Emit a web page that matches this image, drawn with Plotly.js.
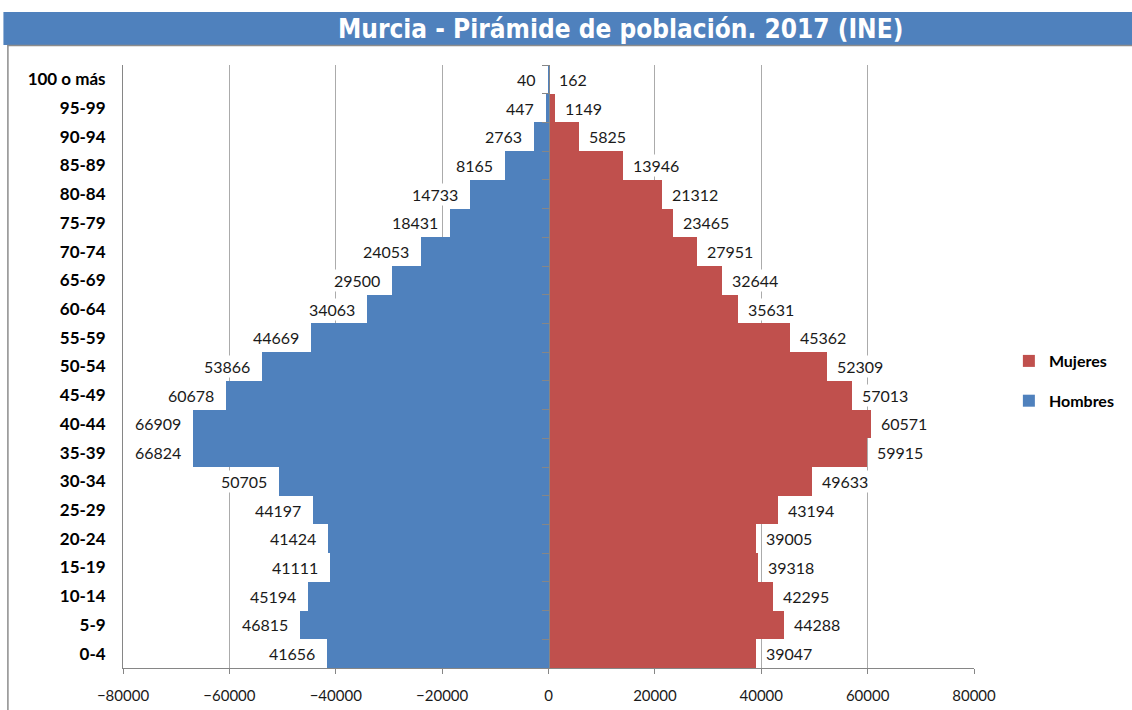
<!DOCTYPE html>
<html>
<head>
<meta charset="utf-8">
<script src="https://cdn.plot.ly/plotly-3.0.1.min.js"></script>
<style>
  html, body { margin: 0; padding: 0; background: #fff; }
  #chart { width: 1132px; height: 710px; }
</style>
</head>
<body>
<div id="chart"></div>
<script>
// Murcia population pyramid, 2017 (INE)
const ages = ["0-4", "5-9", "10-14", "15-19", "20-24", "25-29", "30-34", "35-39", "40-44", "45-49",
  "50-54", "55-59", "60-64", "65-69", "70-74", "75-79", "80-84", "85-89", "90-94", "95-99", "100 o más"];
const hombres = [41656, 46815, 45194, 41111, 41424, 44197, 50705, 66824, 66909, 60678,
  53866, 44669, 34063, 29500, 24053, 18431, 14733, 8165, 2763, 447, 40];
const mujeres = [39047, 44288, 42295, 39318, 39005, 43194, 49633, 59915, 60571, 57013,
  52309, 45362, 35631, 32644, 27951, 23465, 21312, 13946, 5825, 1149, 162];

const titleText = "Murcia - Pirámide de población. 2017 (INE)";
const BLUE = "#4F81BD", RED = "#C0504D", GRID = "#ABABAB", AXIS = "#868686";
const FONT = "Lato, 'Open Sans', sans-serif";

const W = 1132, H = 710;
const M = { l: 123, r: 155, t: 65, b: 42 };
const pw = W - M.l - M.r, ph = H - M.t - M.b;
// pixel -> paper helpers for the decoration outside the plot area
function px(x) { return (x - M.l) / pw; }
function py(y) { return (H - M.b - y) / ph; }

const traces = [
  {
    type: "bar", orientation: "h", name: "Mujeres", legendgroup: "m",
    y: ages, x: mujeres,
    marker: { color: RED, line: { width: 0 } },
    hoverinfo: "skip",
  },
  {
    type: "bar", orientation: "h", name: "Hombres", legendgroup: "h",
    y: ages, x: hombres.map((v) => -v),
    marker: { color: BLUE, line: { width: 0 } },
    hoverinfo: "skip",
  },
  // helper trace so the centre axis (with boundary ticks) is drawn
  {
    type: "scatter", mode: "none", y: ages, x: mujeres, yaxis: "y2",
    showlegend: false, hoverinfo: "skip",
  },
];

const labelFont = { family: FONT, size: 16, color: "#1a1a1a" };
const annotations = [];
ages.forEach((a, i) => {
  annotations.push({
    x: -hombres[i], y: a, xref: "x", yref: "y", text: String(hombres[i]),
    showarrow: false, xanchor: "right", xshift: -10, bgcolor: "#ffffff", borderpad: 1, font: labelFont,
  });
  annotations.push({
    x: mujeres[i], y: a, xref: "x", yref: "y", text: String(mujeres[i]),
    showarrow: false, xanchor: "left", xshift: 8, bgcolor: "#ffffff", borderpad: 1, font: labelFont,
  });
});
annotations.push({
  x: px(622), y: py(29), xref: "paper", yref: "paper", text: titleText, showarrow: false,
  xanchor: "center", yanchor: "middle",
  font: { family: "'Liberation Sans Narrow', 'Arial Narrow', 'DejaVu Sans Condensed', sans-serif", size: 26, color: "#ffffff", weight: 700 },
});

const shapes = [
  { type: "rect", xref: "paper", yref: "paper", x0: px(3), x1: px(1140), y0: py(45), y1: py(12),
    fillcolor: BLUE, line: { width: 0 }, layer: "below" },
  { type: "line", xref: "paper", yref: "paper", x0: px(7), x1: px(1140), y0: py(45.5), y1: py(45.5),
    line: { color: "#8C8C8C", width: 1.5 } },
  { type: "line", xref: "paper", yref: "paper", x0: px(7.5), x1: px(7.5), y0: py(45), y1: py(715),
    line: { color: "#8C8C8C", width: 1.5 } },
];

const catRange = [-0.5, ages.length - 0.5];

const layout = {
  width: W, height: H, autosize: false,
  margin: M,
  paper_bgcolor: "#ffffff", plot_bgcolor: "#ffffff",
  font: { family: FONT, color: "#1a1a1a" },
  barmode: "relative", bargap: 0,
  xaxis: {
    range: [-80000, 80000], tick0: 0, dtick: 20000, tickformat: "d",
    showgrid: true, gridcolor: GRID, gridwidth: 1, zeroline: false,
    showline: true, linecolor: AXIS, linewidth: 1,
    ticks: "outside", ticklen: 5, tickcolor: AXIS, ticklabelstandoff: 9,
    tickfont: { family: FONT, size: 15, color: "#1a1a1a" },
    fixedrange: true,
  },
  yaxis: {
    type: "category", categoryorder: "array", categoryarray: ages,
    range: catRange, autorange: false,
    showgrid: false, zeroline: false,
    showline: true, linecolor: AXIS, linewidth: 1,
    ticks: "", ticklabelstandoff: 13,
    tickfont: { family: FONT, size: 17, color: "#000000", weight: 700 },
    fixedrange: true,
  },
  yaxis2: {
    overlaying: "y", anchor: "free", position: 0.5,
    type: "category", categoryorder: "array", categoryarray: ages,
    range: catRange, autorange: false,
    showgrid: false, zeroline: false, showticklabels: false,
    showline: true, linecolor: AXIS, linewidth: 1,
    ticks: "outside", ticklen: 7, tickcolor: AXIS, tickson: "boundaries",
    layer: "above traces", fixedrange: true,
  },
  showlegend: true,
  legend: {
    x: px(1012), y: py(381), xanchor: "left", yanchor: "middle",
    traceorder: "grouped", tracegroupgap: 16,
    font: { family: FONT, size: 16, color: "#000000", weight: 700 },
    bgcolor: "rgba(0,0,0,0)", itemwidth: 30,
  },
  annotations: annotations,
  shapes: shapes,
};

Plotly.newPlot("chart", traces, layout, { staticPlot: true, displayModeBar: false });
</script>
</body>
</html>
